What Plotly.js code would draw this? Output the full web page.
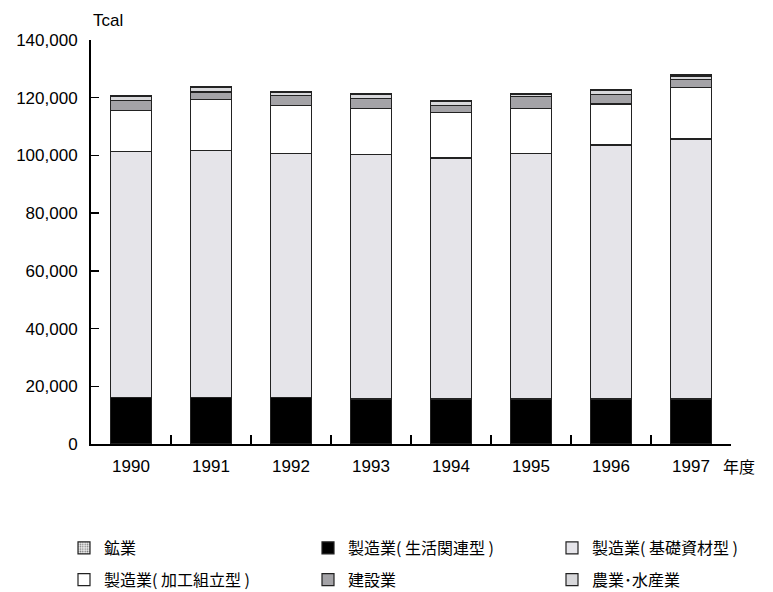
<!DOCTYPE html>
<html>
<head>
<meta charset="utf-8">
<script src="https://cdn.plot.ly/plotly-3.0.1.min.js"></script>
<style>
  html, body { margin: 0; padding: 0; background: #fff; }
  #chart { width: 773px; height: 592px; }
</style>
</head>
<body>
<div id="chart"></div>
<script>
// 年度別エネルギー消費量（産業部門の内訳, Tcal）
const years = ['1990', '1991', '1992', '1993', '1994', '1995', '1996', '1997'];

const seikatsu = [16000, 16100, 16000, 15600, 15600, 15600, 15600, 15600]; // 製造業(生活関連型)
const kiso     = [85400, 85600, 84600, 84800, 83500, 85000, 88000, 90100]; // 製造業(基礎資材型)
const kakou    = [14200, 17800, 16800, 15800, 15900, 15700, 14200, 17800]; // 製造業(加工組立型)
const kensetsu = [3300, 2500, 3300, 3500, 2300, 4000, 3400, 2800];         // 建設業
const nougyou  = [1400, 1500, 1100, 1300, 1400, 900, 1400, 1250];          // 農業・水産業
const kougyou  = [330, 350, 290, 320, 330, 260, 330, 310];                 // 鉱業

const yTickVals = [0, 20000, 40000, 60000, 80000, 100000, 120000, 140000];
const yTickText = ['0', '20,000', '40,000', '60,000', '80,000', '100,000', '120,000', '140,000'];

const FONT = 'Liberation Sans, Arial, "Noto Sans CJK JP", sans-serif';
const JFONT = '"Noto Sans CJK JP", "Liberation Sans", sans-serif';

const edge = { color: '#222', width: 1.2 };

function series(name, values, color, legendId, pattern) {
  const t = {
    type: 'bar',
    name: name,
    x: years,
    y: values,
    width: 0.51,
    marker: { color: color, line: edge },
    legend: legendId,
    legendgroup: name,
    hoverinfo: 'x+y+name'
  };
  if (pattern) t.marker.pattern = pattern;
  return t;
}

// stacked from the bottom up; each legend is one column of the key
const kougyouTrace = series('鉱業', kougyou, '#e2e2e2', 'legend',
  { shape: '.', fgcolor: '#777', bgcolor: '#ececec', size: 3, solidity: 0.3 });
kougyouTrace.legendrank = 1;
const kakouTrace = series('製造業( 加工組立型 )', kakou, '#ffffff', 'legend');
kakouTrace.legendrank = 2;

const data = [
  series('製造業( 生活関連型 )', seikatsu, '#000000', 'legend2'),
  series('製造業( 基礎資材型 )', kiso, '#e5e4e9', 'legend3'),
  kakouTrace,
  series('建設業', kensetsu, '#a4a3a7', 'legend2'),
  series('農業･水産業', nougyou, '#d8d8db', 'legend3'),
  kougyouTrace
];

const legendTop = 1 - 531 / 592;
function column(leftPx) {
  return {
    orientation: 'v',
    xref: 'container',
    yref: 'container',
    xanchor: 'left',
    yanchor: 'top',
    x: leftPx / 773,
    y: legendTop,
    traceorder: 'grouped',
    tracegroupgap: 8,
    font: { family: JFONT, size: 16, color: '#000' },
    bgcolor: 'rgba(0,0,0,0)',
    borderwidth: 0
  };
}

const layout = {
  width: 773,
  height: 592,
  margin: { l: 91, r: 42, t: 40, b: 148, autoexpand: false },
  paper_bgcolor: '#fff',
  plot_bgcolor: '#fff',
  barmode: 'stack',
  bargap: 0.49,
  font: { family: FONT, size: 17, color: '#000' },
  xaxis: {
    type: 'category',
    range: [-0.5, 7.5],
    showgrid: false,
    showline: true,
    linecolor: '#000',
    linewidth: 2,
    ticks: 'inside',
    tickson: 'boundaries',
    ticklen: 9,
    tickwidth: 1.5,
    tickcolor: '#000',
    ticklabelstandoff: 6,
    tickfont: { family: FONT, size: 17, color: '#000' },
    zeroline: false,
    fixedrange: true
  },
  yaxis: {
    range: [0, 140000],
    showgrid: false,
    showline: true,
    linecolor: '#000',
    linewidth: 2,
    ticks: 'inside',
    ticklen: 8,
    tickwidth: 1.5,
    tickcolor: '#000',
    tickvals: yTickVals,
    ticktext: yTickText,
    ticklabelstandoff: 8,
    tickfont: { family: FONT, size: 17, color: '#000' },
    zeroline: false,
    fixedrange: true
  },
  legend: column(64),
  legend2: column(308),
  legend3: column(552),
  annotations: [
    {
      text: 'Tcal', xref: 'paper', yref: 'paper',
      x: 0, y: 1, xanchor: 'left', yanchor: 'bottom', yshift: 8,
      showarrow: false, font: { family: FONT, size: 17, color: '#000' }
    },
    {
      text: '年度', xref: 'paper', yref: 'paper',
      x: 1, y: 0, xanchor: 'left', yanchor: 'top', xshift: -10, yshift: -8,
      showarrow: false, font: { family: JFONT, size: 16, color: '#000' }
    }
  ],
  showlegend: true
};

Plotly.newPlot('chart', data, layout, { displayModeBar: false, staticPlot: true });
</script>
</body>
</html>
